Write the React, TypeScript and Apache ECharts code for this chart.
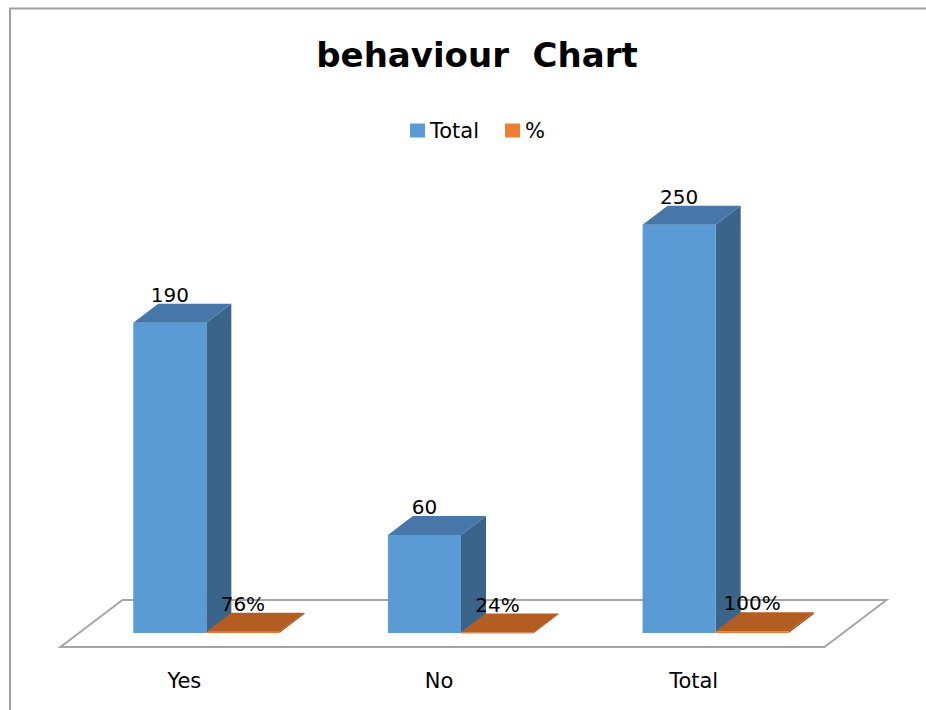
import React, { useEffect, useRef } from "react";
import * as echarts from "echarts";

const categories = ["Yes", "No", "Total"];
const totalValues = [190, 60, 250];
const percentValues = [0.76, 0.24, 1.0];
const seriesNames = ["Total", "%"];

const DX = 25;
const DY = -19;
const BAR_FRAC = 0.287;
const FONT = "DejaVu Sans";

function makeBox(side: number, front: string, topC: string, sideC: string, fmt: (v: number) => string) {
  return (params: any, api: any) => {
    const idx = api.value(0);
    const val = api.value(1);
    const top = api.coord([idx, val]);
    const base = api.coord([idx, 0]);
    const band = api.size([1, 0])[0];
    const w = band * BAR_FRAC;
    const cx = top[0];
    const xl = side < 0 ? cx - w : cx;
    const xr = xl + w;
    const yt = top[1];
    const yb = base[1];
    return {
      type: "group",
      children: [
        {
          type: "polygon",
          shape: { points: [[xr, yt], [xr + DX, yt + DY], [xr + DX, yb + DY], [xr, yb]] },
          style: { fill: sideC },
        },
        {
          type: "rect",
          shape: { x: xl, y: yt, width: w, height: Math.max(yb - yt, 1) },
          style: { fill: front },
        },
        {
          type: "polygon",
          shape: { points: [[xl, yt], [xr, yt], [xr + DX, yt + DY], [xl + DX, yt + DY]] },
          style: { fill: topC },
        },
        {
          type: "text",
          x: (xl + xr) / 2,
          y: yt + DY + 1,
          style: {
            text: fmt(val),
            fill: "#000",
            font: `20px '${FONT}'`,
            align: "center",
            verticalAlign: "bottom",
          },
        },
      ],
    };
  };
}

function floorRender(params: any, api: any) {
  const band = api.size([1, 0])[0];
  const first = api.coord([0, 0]);
  const last = api.coord([categories.length - 1, 0]);
  const L = first[0] - band / 2;
  const R = last[0] + band / 2;
  const y = first[1];
  const fk = 0.74;
  const bk = 1.74;
  return {
    type: "polygon",
    shape: {
      points: [
        [L - fk * DX, y - fk * DY],
        [R - fk * DX, y - fk * DY],
        [R + bk * DX, y + bk * DY],
        [L + bk * DX, y + bk * DY],
      ],
    },
    style: { fill: "#fff", stroke: "#a6a6a6", lineWidth: 2 },
  };
}

export default function App() {
  const ref = useRef<HTMLDivElement>(null);
  useEffect(() => {
    if (!ref.current) return;
    const chart = echarts.init(ref.current, null, { renderer: "svg" });
    chart.setOption({
      animation: false,
      backgroundColor: "#fff",
      title: {
        text: "behaviour  Chart",
        left: 477,
        top: 38,
        textAlign: "center",
        padding: 0,
        textStyle: { fontFamily: FONT, fontWeight: "bold", fontSize: 34, color: "#000" },
      },
      legend: {
        data: seriesNames,
        left: 410,
        top: 120,
        padding: 0,
        icon: "rect",
        itemWidth: 15,
        itemHeight: 14,
        itemGap: 26,
        textStyle: { fontFamily: FONT, fontSize: 21, color: "#000" },
      },
      grid: { left: 79, right: 83, bottom: 77, top: 143 },
      xAxis: {
        type: "category",
        data: categories,
        axisLine: { show: false },
        axisTick: { show: false },
        axisLabel: {
          margin: 37,
          fontFamily: FONT,
          fontSize: 21,
          color: "#000",
          padding: [0, 44, 0, 0],
        },
      },
      yAxis: {
        type: "value",
        min: 0,
        max: 300,
        show: false,
        splitLine: { show: false },
      },
      graphic: [
        {
          type: "polyline",
          shape: { points: [[10, 710], [10, 8.5], [926, 8.5]] },
          style: { stroke: "#a0a0a0", lineWidth: 2, fill: null },
          silent: true,
        },
      ],
      series: [
        {
          type: "custom",
          name: "floor",
          data: [[0, 0]],
          encode: { x: 0, y: 1 },
          renderItem: floorRender,
          silent: true,
          z: 1,
        },
        {
          type: "custom",
          name: seriesNames[0],
          data: categories.map((c, i) => [i, totalValues[i]]),
          encode: { x: 0, y: 1 },
          itemStyle: { color: "#5b9bd5" },
          renderItem: makeBox(-1, "#5b9bd5", "#4677a8", "#3b648a", (v) => String(v)),
          z: 2,
        },
        {
          type: "custom",
          name: seriesNames[1],
          data: categories.map((c, i) => [i, percentValues[i]]),
          encode: { x: 0, y: 1 },
          itemStyle: { color: "#ed7d31" },
          renderItem: makeBox(1, "#ed7d31", "#b45d22", "#9c4f1c", (v) => Math.round(v * 100) + "%"),
          z: 3,
        },
      ],
    });
    return () => chart.dispose();
  }, []);
  return (
    <div
      ref={ref}
      style={{ position: "absolute", left: 0, top: 0, width: 926, height: 710 }}
    />
  );
}
